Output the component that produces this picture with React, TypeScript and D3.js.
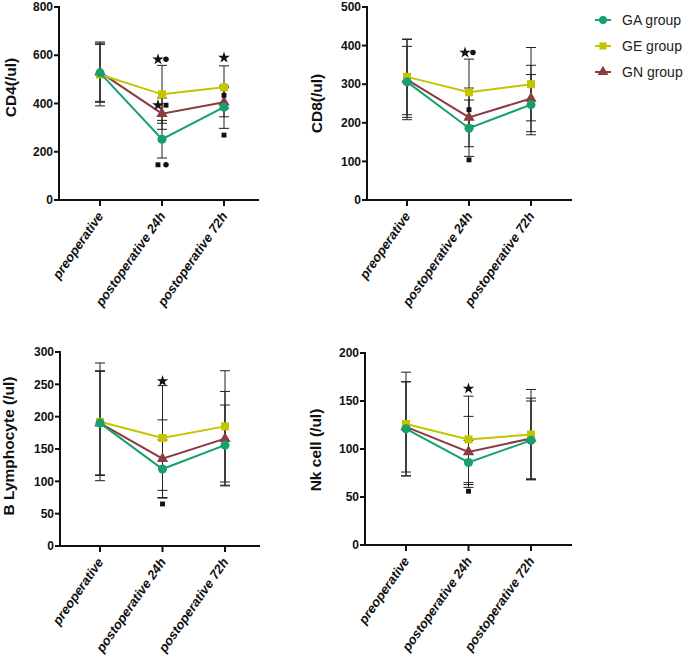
import * as d3 from "d3";

const categories = ["preoperative", "postoperative 24h", "postoperative 72h"];
const groups = ["GA group", "GE group", "GN group"];
const colors = ["#17a06e", "#c4c400", "#8b3a40"];
const shapes = [d3.symbolCircle, d3.symbolSquare, d3.symbolTriangle];

// CD4 (/ul)
const cd4Mean = [[527, 252, 385], [520, 438, 467], [530, 358, 405]];
const cd4Sd = [[118, 78, 88], [130, 120, 89], [125, 65, 60]];
const cd4Ticks = [0, 200, 400, 600, 800];
const cd4Marks = [
  { cat: 1, value: 583, marks: ["star", "circle"] },
  { cat: 1, value: 393, marks: ["star", "square"] },
  { cat: 1, value: 146, marks: ["square", "circle"] },
  { cat: 2, value: 590, marks: ["star"] },
  { cat: 2, value: 434, marks: ["square"] },
  { cat: 2, value: 269, marks: ["square"] },
];

// CD8 (/ul)
const cd8Mean = [[306, 186, 247], [319, 279, 300], [312, 214, 263]];
const cd8Sd = [[92, 73, 78], [98, 86, 95], [104, 76, 86]];
const cd8Ticks = [0, 100, 200, 300, 400, 500];
const cd8Marks = [
  { cat: 1, value: 382, marks: ["star", "circle"] },
  { cat: 1, value: 234, marks: ["square"] },
  { cat: 1, value: 104, marks: ["square"] },
];

// B Lymphocyte (/ul)
const bMean = [[190, 119, 156], [192, 167, 185], [190, 135, 166]];
const bSd = [[80, 45, 62], [91, 81, 86], [81, 60, 73]];
const bTicks = [0, 50, 100, 150, 200, 250, 300];
const bMarks = [
  { cat: 1, value: 255, marks: ["star"] },
  { cat: 1, value: 65, marks: ["square"] },
];

// Nk cell (/ul)
const nkMean = [[121, 86, 109], [126, 110, 115], [123, 97, 111]];
const nkSd = [[49, 23, 41], [54, 45, 47], [47, 37, 42]];
const nkTicks = [0, 50, 100, 150, 200];
const nkMarks = [
  { cat: 1, value: 163, marks: ["star"] },
  { cat: 1, value: 56, marks: ["square"] },
];

const FONT = "'Liberation Sans', Arial, sans-serif";

type Mark = { cat: number; value: number; marks: string[] };

type PanelProps = {
  left: number;
  right: number;
  top: number;
  bottom: number;
  catLeft: number;
  catRight: number;
  ticks: number[];
  mean: number[][];
  sd: number[][];
  marks: Mark[];
  title: string;
  titleX: number;
  titleShift: number;
};

const markShape: Record<string, [d3.SymbolType, number]> = {
  star: [d3.symbolStar, 42],
  circle: [d3.symbolCircle, 24],
  square: [d3.symbolSquare, 24],
};

function Panel(p: PanelProps) {
  const x = d3.scalePoint<number>().domain([0, 1, 2]).range([p.catLeft, p.catRight]);
  const y = d3
    .scaleLinear()
    .domain([0, p.ticks[p.ticks.length - 1]])
    .range([p.bottom, p.top]);
  const line = d3
    .line<number>()
    .x((_, i) => x(i)!)
    .y((d) => y(d));
  const midY = (p.top + p.bottom) / 2 + p.titleShift;

  return (
    <g>
      {/* error bars */}
      {p.mean.map((row, g) =>
        row.map((m, i) => {
          const cx = x(i)!;
          const hi = y(m + p.sd[g][i]);
          const lo = y(m - p.sd[g][i]);
          return (
            <g key={`e${g}-${i}`} stroke="#222" strokeWidth={1}>
              <line x1={cx} x2={cx} y1={hi} y2={lo} />
              <line x1={cx - 5} x2={cx + 5} y1={hi} y2={hi} />
              <line x1={cx - 5} x2={cx + 5} y1={lo} y2={lo} />
            </g>
          );
        })
      )}
      {/* lines + markers, GN under GE under GA */}
      {[2, 1, 0].map((g) => (
        <g key={`s${g}`}>
          <path d={line(p.mean[g])!} fill="none" stroke={colors[g]} strokeWidth={2} />
          {p.mean[g].map((m, i) => (
            <path
              key={i}
              transform={`translate(${x(i)},${y(m)})`}
              d={d3.symbol(shapes[g], g === 2 ? 55 : 65)()!}
              fill={colors[g]}
            />
          ))}
        </g>
      ))}
      {/* significance marks */}
      {p.marks.map((a, k) =>
        a.marks.map((mk, j) => {
          const off = a.marks.length === 1 ? 0 : j === 0 ? -4 : 4;
          const [sym, size] = markShape[mk];
          return (
            <path
              key={`m${k}-${j}`}
              transform={`translate(${x(a.cat)! + off},${y(a.value)})`}
              d={d3.symbol(sym, size)()!}
              fill="#111"
            />
          );
        })
      )}
      {/* y axis */}
      <line x1={p.left} x2={p.left} y1={p.top - 1} y2={p.bottom + 1} stroke="#111" strokeWidth={2} />
      {p.ticks.map((t) => (
        <g key={t}>
          <line x1={p.left - 5} x2={p.left} y1={y(t)} y2={y(t)} stroke="#111" strokeWidth={2} />
          <text
            x={p.left - 6}
            y={y(t)}
            dy="0.35em"
            textAnchor="end"
            fontFamily={FONT}
            fontWeight="bold"
            fontSize={12}
            fill="#111"
          >
            {t}
          </text>
        </g>
      ))}
      {/* x axis */}
      <line x1={p.left - 1} x2={p.right} y1={p.bottom} y2={p.bottom} stroke="#111" strokeWidth={2} />
      {categories.map((c, i) => (
        <g key={c}>
          <line x1={x(i)} x2={x(i)} y1={p.bottom} y2={p.bottom + 6} stroke="#111" strokeWidth={2} />
          <text
            transform={`translate(${x(i)! + 4},${p.bottom + 16}) rotate(-55)`}
            textAnchor="end"
            fontFamily={FONT}
            fontWeight="bold"
            fontStyle="italic"
            fontSize={13}
            fill="#111"
          >
            {c}
          </text>
        </g>
      ))}
      <text
        transform={`translate(${p.titleX},${midY}) rotate(-90)`}
        textAnchor="middle"
        fontFamily={FONT}
        fontWeight="bold"
        fontSize={15.5}
        fill="#111"
      >
        {p.title}
      </text>
    </g>
  );
}

export default function App() {
  return (
    <svg width={685} height={661} style={{ position: "absolute", left: 0, top: 0 }}>
      <rect width={685} height={661} fill="#fff" />
      <Panel
        left={59} right={259} top={7} bottom={200} catLeft={100} catRight={224}
        ticks={cd4Ticks} mean={cd4Mean} sd={cd4Sd} marks={cd4Marks}
        title="CD4(/ul)" titleX={16} titleShift={-16}
      />
      <Panel
        left={367} right={572} top={7} bottom={200} catLeft={407} catRight={531}
        ticks={cd8Ticks} mean={cd8Mean} sd={cd8Sd} marks={cd8Marks}
        title="CD8(/ul)" titleX={322} titleShift={0}
      />
      <Panel
        left={60} right={260} top={352} bottom={546} catLeft={100} catRight={225}
        ticks={bTicks} mean={bMean} sd={bSd} marks={bMarks}
        title="B Lymphocyte (/ul)" titleX={14} titleShift={-3}
      />
      <Panel
        left={365} right={572} top={353} bottom={545} catLeft={406} catRight={531}
        ticks={nkTicks} mean={nkMean} sd={nkSd} marks={nkMarks}
        title="Nk cell (/ul)" titleX={321} titleShift={1}
      />
      {/* legend */}
      {groups.map((g, i) => (
        <g key={g} transform={`translate(0,${20 + i * 26})`}>
          <line x1={595} x2={611} y1={0} y2={0} stroke={colors[i]} strokeWidth={2} />
          <path transform="translate(603,0)" d={d3.symbol(shapes[i], 50)()!} fill={colors[i]} />
          <text x={622} y={0} dy="0.35em" fontFamily={FONT} fontSize={14} fill="#222">
            {g}
          </text>
        </g>
      ))}
    </svg>
  );
}
